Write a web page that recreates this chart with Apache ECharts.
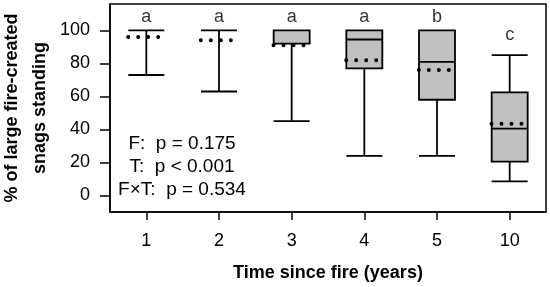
<!DOCTYPE html>
<html>
<head>
<meta charset="utf-8">
<script src="https://cdn.jsdelivr.net/npm/echarts@6/dist/echarts.min.js"></script>
<style>html,body{margin:0;padding:0;background:#fff;}#c{width:550px;height:287px;}</style>
</head>
<body>
<div id="c"></div>
<script>
const categories = ['1', '2', '3', '4', '5', '10'];
const mins    = [73, 63, 45, 24, 24, 8.5];
const q1s     = [100, 100, 92, 77, 58, 20.5];
const medians = [100, 100, 92, 94.5, 81, 40.5];
const q3s     = [100, 100, 100, 100, 100, 62.5];
const maxs    = [100, 100, 100, 100, 100, 85];
const means   = [96, 94, 91, 82, 76, 43.5];
const letters = ['a', 'a', 'a', 'a', 'b', 'c'];
const letterY = [108, 108, 108, 108, 108, 97];
const yTicks  = [0, 20, 40, 60, 80, 100];
const statLines = ['F:  p = 0.175', 'T:  p < 0.001', 'F\u00d7T:  p = 0.534'];
const yTitle = '% of large fire-created\nsnags standing';
const xTitle = 'Time since fire (years)';

const FONT = 'Liberation Sans, Arial, sans-serif';
const chart = echarts.init(document.getElementById('c'), null, {renderer: 'canvas'});

const boxData = categories.map((c, i) => [mins[i], q1s[i], medians[i], q3s[i], maxs[i]]);

const graphics = statLines.map((t, i) => ({
  type: 'text',
  x: 182,
  y: 144 + i * 23,
  style: {text: t, fill: '#000', font: '19px ' + FONT, textAlign: 'center', textVerticalAlign: 'middle'},
  z: 10
}));
graphics.push({
  type: 'text',
  x: 26,
  y: 108,
  rotation: Math.PI / 2,
  style: {text: yTitle, fill: '#000', font: 'bold 18px ' + FONT, lineHeight: 28, textAlign: 'center', textVerticalAlign: 'middle'},
  z: 10
});

chart.setOption({
  animation: false,
  grid: {left: 110, top: 4, right: 4, bottom: 75, containLabel: false, outerBoundsMode: 'none',
         show: true, borderColor: '#000', borderWidth: 1.5, backgroundColor: 'transparent'},
  xAxis: {
    type: 'category',
    data: categories,
    axisLine: {show: true, onZero: false, lineStyle: {color: '#000', width: 1.5}},
    axisTick: {show: true, inside: false, alignWithLabel: true, length: 8, lineStyle: {color: '#000', width: 1.5}},
    axisLabel: {color: '#000', fontSize: 18, fontFamily: FONT, margin: 20},
    name: xTitle,
    nameLocation: 'middle',
    nameGap: 52,
    nameTextStyle: {color: '#000', fontSize: 18, fontWeight: 'bold', fontFamily: FONT}
  },
  yAxis: {
    type: 'value',
    min: -10,
    max: 116,
    splitLine: {show: false},
    axisLine: {show: true, onZero: false, lineStyle: {color: '#000', width: 1.5}},
    axisTick: {show: true, inside: false, length: 10, customValues: yTicks, lineStyle: {color: '#000', width: 1.5}},
    axisLabel: {color: '#000', fontSize: 18, fontFamily: FONT, margin: 20, customValues: yTicks}
  },
  graphic: graphics,
  series: [
    {
      type: 'boxplot',
      data: boxData,
      boxWidth: [36, 36],
      itemStyle: {color: '#c0c0c0', borderColor: '#000', borderWidth: 1.8},
      emphasis: {disabled: true},
      z: 2
    },
    {
      type: 'custom',
      data: means.map((m, i) => [i, m]),
      renderItem: function (params, api) {
        const p = api.coord([api.value(0), api.value(1)]);
        const half = api.size([1, 0])[0] * 0.25;
        return {
          type: 'line',
          shape: {x1: p[0] - half, y1: p[1], x2: p[0] + half, y2: p[1]},
          style: {stroke: '#000', lineWidth: 4, lineDash: [0, 10], lineCap: 'round'}
        };
      },
      z: 5
    },
    {
      type: 'scatter',
      data: letterY.map((v, i) => [i, v]),
      symbolSize: 0,
      label: {
        show: true, position: 'inside',
        formatter: p => letters[p.dataIndex],
        color: '#000', fontSize: 18, fontFamily: FONT
      },
      emphasis: {disabled: true},
      z: 6
    }
  ]
});
</script>
</body>
</html>
